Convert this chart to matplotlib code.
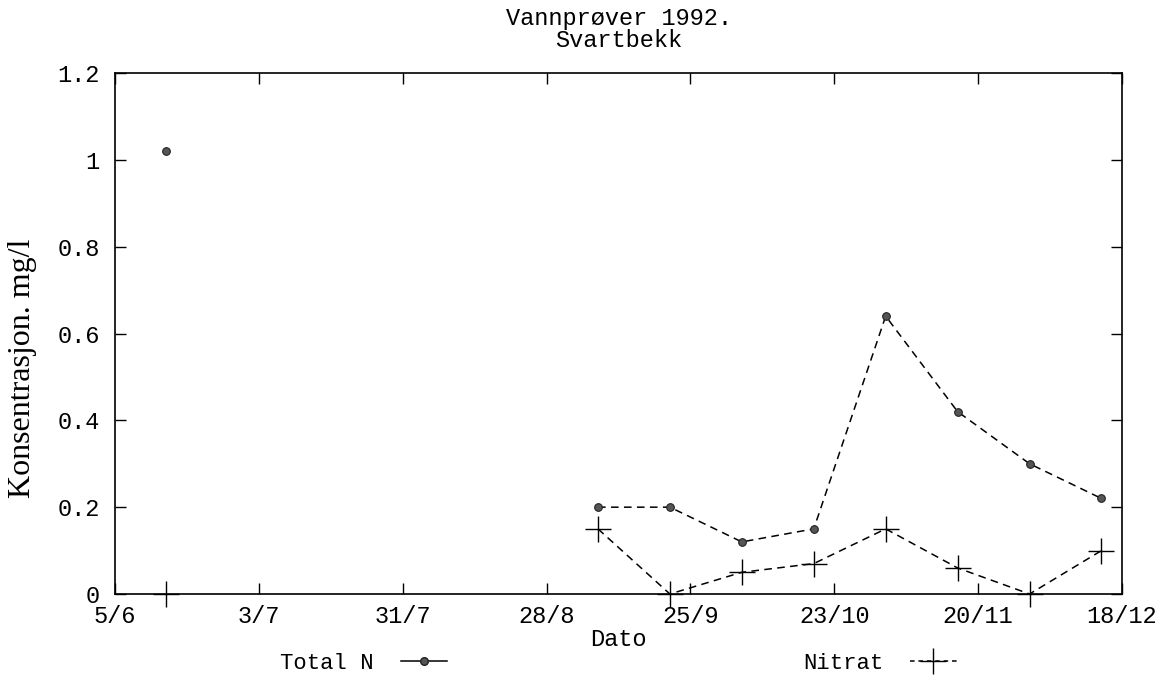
import datetime as dt
import numpy as np
import matplotlib
matplotlib.use("Agg")
import matplotlib.pyplot as plt
import matplotlib.dates as mdates
from matplotlib.lines import Line2D
from matplotlib.ticker import FuncFormatter

# sampling dates (every second Monday in the autumn) and concentrations, mg/l
dates = ["1992-06-15", "1992-09-07", "1992-09-21", "1992-10-05", "1992-10-19",
         "1992-11-02", "1992-11-16", "1992-11-30", "1992-12-14"]
total_n = [1.02, 0.20, 0.20, 0.12, 0.15, 0.64, 0.42, 0.30, 0.22]
nitrat = [0.0, 0.15, 0.0, 0.05, 0.07, 0.15, 0.06, 0.0, 0.10]

mono = "Liberation Mono"
serif = "Liberation Serif"

days = [dt.datetime.strptime(d, "%Y-%m-%d") for d in dates]


# break the dashed line where there is a long pause between samples
def with_gaps(x, y, max_gap=40):
    xs, ys = [x[0]], [y[0]]
    for i in range(1, len(x)):
        if (x[i] - x[i - 1]).days > max_gap:
            xs.append(x[i - 1] + dt.timedelta(days=1))
            ys.append(np.nan)
        xs.append(x[i])
        ys.append(y[i])
    return xs, ys


fig = plt.figure(figsize=(11.7, 6.76), dpi=100)
ax = fig.add_axes([0.0983, 0.1213, 0.8607, 0.7707])

dash = (0, (5, 3.5))
x_tn, y_tn = with_gaps(days, total_n)
x_ni, y_ni = with_gaps(days, nitrat)

ax.plot(x_tn, y_tn, color="black", ls=dash, lw=1.1)
ax.plot(days, total_n, ls="none", marker="o", ms=5.5, mfc="#555555", mec="#222222", mew=0.8)
ax.plot(x_ni, y_ni, color="black", ls=dash, lw=1.1)
ax.plot(days, nitrat, ls="none", marker="+", ms=19, mec="black", mew=1.0, clip_on=False)

start = dt.datetime(1992, 6, 5)
ticks = [start + dt.timedelta(days=28 * k) for k in range(8)]
ax.set_xlim(ticks[0], ticks[-1])
ax.set_xticks(ticks)
ax.xaxis.set_major_formatter(FuncFormatter(
    lambda v, pos: "%d/%d" % (mdates.num2date(v).day, mdates.num2date(v).month)))

ax.set_ylim(0, 1.2)
ax.set_yticks(np.arange(0, 1.21, 0.2))
ax.yaxis.set_major_formatter(FuncFormatter(lambda v, pos: "%g" % round(v, 1)))

ax.tick_params(direction="in", length=8, width=1, top=True, right=True, labelsize=17)
ax.tick_params(axis="x", pad=8)
ax.tick_params(axis="y", pad=11)
for lab in ax.get_xticklabels() + ax.get_yticklabels():
    lab.set_fontfamily(mono)
for sp in ax.spines.values():
    sp.set_linewidth(1.2)

ax.set_xlabel("Dato", fontfamily=mono, fontsize=17, va="center")
ax.xaxis.set_label_coords(0.5, -0.088)
ax.set_ylabel("Konsentrasjon. mg/l", fontfamily=serif, fontsize=23,
              va="center", ha="center")
ax.yaxis.set_label_coords(-0.0914, 0.434)
ax.set_title("Vannprøver 1992.\nSvartbekk", fontfamily=mono, fontsize=17,
             linespacing=0.95, pad=19)

h_tn = Line2D([], [], color="black", lw=1.1, marker="o", ms=5.5,
              mfc="#555555", mec="#222222")
h_ni = Line2D([], [], color="black", lw=1.1, ls=(0, (3, 2.5)), marker="+", ms=19)
leg_kw = dict(frameon=False, markerfirst=False, handlelength=2.1,
              handletextpad=1.2, loc="center", prop={"family": mono, "size": 16})
fig.legend([h_tn], ["Total N"], bbox_to_anchor=(0.311, 0.019), **leg_kw)
fig.legend([h_ni], ["Nitrat"], bbox_to_anchor=(0.752, 0.019), **leg_kw)

fig.savefig("out.png", dpi=100)
